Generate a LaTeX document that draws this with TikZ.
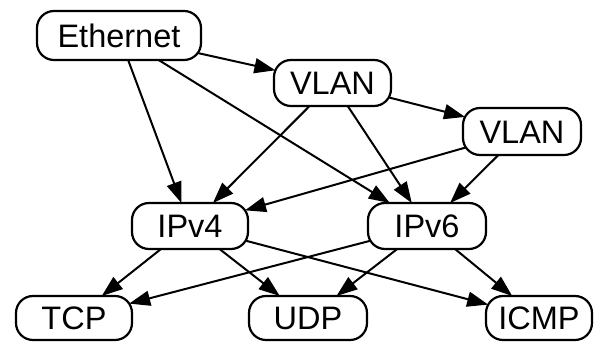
\documentclass[tikz,border=0pt]{standalone}
\usepackage{fontspec}
\setmainfont{Liberation Sans}
\usetikzlibrary{arrows.meta,intersections}
\tikzset{
  box/.style={draw, line width=2.2pt, rounded corners=17pt, inner sep=0pt,
    font=\fontsize{32.5}{32.5}\selectfont, text height=23.5pt, text depth=0pt},
  arr/.style={line width=2pt, -{Triangle[length=21pt,width=15pt]}},
}
\newcommand\boxnode[6]{%
  \node[box, minimum width=#4pt, minimum height=#5pt, name path global=P#1]
    (#1) at (#2pt,#3pt) {#6};}
\newcommand\link[2]{%
  \path[name path=L#1#2] (#1.center) -- (#2.center);
  \path[name intersections={of=L#1#2 and P#1, by={S#1#2}}];
  \path[name intersections={of=L#1#2 and P#2, by={E#1#2}}];
  \draw[arr] (S#1#2) -- (E#1#2);}
\begin{document}
\begin{tikzpicture}
\useasboundingbox (0pt,0pt) rectangle (595pt,342pt);
\boxnode{eth}{119}{306.5}{164}{49}{Ethernet}
\boxnode{vla}{332.5}{259}{117}{46}{VLAN}
\boxnode{vlb}{522}{210.5}{118}{47}{VLAN}
\boxnode{ipf}{190}{116}{116}{46}{IPv4}
\boxnode{ips}{427}{116}{118}{46}{IPv6}
\boxnode{tcp}{74}{24}{116}{44}{TCP}
\boxnode{udp}{308}{24}{118}{44}{UDP}
\boxnode{icm}{539}{24}{106}{44}{ICMP}
\link{eth}{vla}
\link{eth}{ipf}
\link{eth}{ips}
\link{vla}{vlb}
\link{vla}{ipf}
\link{vla}{ips}
\link{vlb}{ipf}
\link{vlb}{ips}
\link{ipf}{tcp}
\link{ipf}{udp}
\link{ipf}{icm}
\link{ips}{tcp}
\link{ips}{udp}
\link{ips}{icm}
\end{tikzpicture}
\end{document}
